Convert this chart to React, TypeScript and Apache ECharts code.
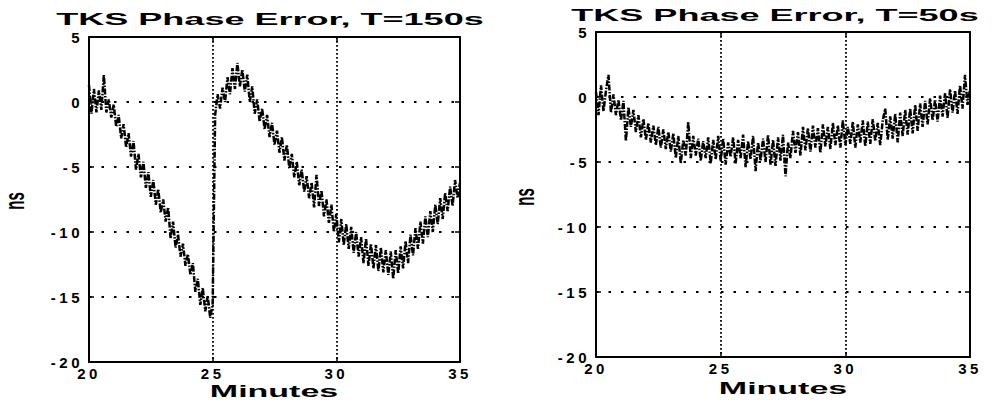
import React, { useEffect, useRef } from "react";
import * as echarts from "echarts";

// sampling grid of both records (minutes)
const T_START = 20;
const T_STEP = 0.1;

// TKS phase error (ns), T = 150 s, one row per minute (20.0 ... 35.0)
const phaseErrT150: number[] = [
  1.3, -0.9, 1.0, -0.8, 0.9, -0.6, 2.1, -0.8, 0.2, -1.2,
  -0.2, -1.9, -1.0, -2.8, -1.7, -3.5, -2.4, -4.2, -3.0, -5.2,
  -4.0, -5.8, -4.6, -6.6, -5.4, -7.3, -6.0, -7.9, -6.7, -8.5,
  -7.5, -9.2, -8.1, -10.5, -9.2, -11.2, -10.2, -11.9, -10.9, -12.6,
  -11.7, -13.3, -12.4, -14.6, -13.6, -15.6, -14.3, -16.1, -14.9, -16.6,
  -15.5, -1.0, 0.6, -0.5, 1.1, 0.0, 1.9, 0.6, 2.6, 1.0,
  3.0, 1.2, 2.5, 0.8, 2.1, 0.0, 1.2, -0.9, 0.2, -1.5,
  -0.5, -2.1, -1.0, -2.7, -1.6, -3.3, -2.2, -3.9, -2.7, -4.5,
  -3.3, -5.1, -4.0, -5.8, -4.6, -6.4, -5.2, -6.9, -5.7, -7.4,
  -6.2, -8.1, -5.6, -8.0, -6.8, -8.8, -7.5, -9.3, -7.9, -10.0,
  -8.6, -10.8, -9.0, -11.0, -9.4, -11.3, -9.6, -11.6, -10.0, -11.9,
  -10.4, -12.4, -10.5, -12.6, -10.9, -12.8, -11.0, -13.0, -11.2, -13.1,
  -11.4, -13.3, -11.5, -13.6, -11.4, -13.2, -11.1, -12.8, -10.7, -12.4,
  -10.2, -11.8, -9.7, -11.3, -9.2, -10.9, -8.8, -10.4, -8.4, -10.0,
  -7.9, -9.4, -7.4, -9.0, -7.0, -8.4, -6.5, -8.0, -6.0, -7.4,
  -6.2,
];

// TKS phase error (ns), T = 50 s
const phaseErrT50: number[] = [
  0.4, -1.4, 0.9, -1.1, 0.5, 1.7, -1.2, 0.2, -1.4, -0.2,
  -1.8, -0.3, -3.4, -0.8, -2.3, -1.0, -2.7, -1.4, -3.1, -1.7,
  -3.3, -2.0, -3.5, -2.2, -3.7, -2.3, -3.9, -2.5, -4.0, -2.7,
  -4.2, -2.8, -4.7, -3.0, -5.1, -3.3, -4.5, -1.9, -4.7, -3.0,
  -4.5, -3.2, -4.9, -3.4, -4.7, -3.1, -5.1, -3.3, -4.8, -3.0,
  -4.9, -3.2, -5.2, -3.5, -4.6, -3.1, -5.1, -3.3, -4.7, -2.9,
  -5.4, -3.4, -4.8, -3.0, -5.7, -3.5, -4.9, -3.2, -5.0, -2.9,
  -5.2, -3.3, -5.3, -3.1, -4.9, -2.9, -6.1, -3.5, -4.7, -2.6,
  -4.3, -2.7, -4.5, -2.3, -4.1, -2.4, -4.2, -2.2, -3.9, -2.4,
  -4.3, -2.1, -3.8, -2.3, -4.0, -2.0, -3.7, -2.2, -3.9, -1.8,
  -3.7, -2.3, -3.6, -1.9, -3.9, -2.1, -3.5, -1.8, -3.8, -1.9,
  -3.6, -1.7, -3.4, -2.0, -3.7, -1.8, -0.9, -3.3, -1.5, -3.2,
  -1.3, -3.5, -1.2, -3.0, -1.0, -2.9, -0.9, -2.8, -0.6, -2.6,
  -0.5, -2.3, -0.3, -2.1, -0.1, -1.8, -0.2, -1.9, 0.1, -1.5,
  0.3, -1.6, 0.6, -1.2, 0.5, -1.3, 0.9, -0.9, 1.7, -0.6,
  0.6,
];

const titles = ["TKS Phase Error, T=150s", "TKS Phase Error, T=50s"];
const xAxisName = "Minutes";
const yAxisName = "ns";
const X_MIN = 20, X_MAX = 35, X_INT = 5;
const Y_MIN = -20, Y_MAX = 5, Y_INT = 5;

const toPairs = (vals: number[]) =>
  vals.map((v, i) => [Number((T_START + i * T_STEP).toFixed(2)), v]);

const LABEL_FONT = "Liberation Sans, Arial";
const TEXT_FONT = "Liberation Sans";

function axesFor(g: number) {
  const label = {
    color: "#000",
    fontFamily: LABEL_FONT,
    fontWeight: "bold" as const,
    fontSize: 15,
  };
  const line = { show: true, onZero: false, lineStyle: { color: "#000", width: 2 } };
  const tick = { show: true, inside: true, length: 5, lineStyle: { color: "#000", width: 1.5 } };
  const xAxes = [
    {
      type: "value", gridIndex: g, min: X_MIN, max: X_MAX, interval: X_INT, position: "bottom",
      axisLine: line, axisTick: tick,
      axisLabel: { ...label, margin: 4 },
      splitLine: { show: true, lineStyle: { color: "#000", width: 1.8, type: [1.8, 2.2] } },
    },
    {
      type: "value", gridIndex: g, min: X_MIN, max: X_MAX, interval: X_INT, position: "top",
      axisLine: line, axisTick: tick, axisLabel: { show: false }, splitLine: { show: false },
    },
  ];
  const yAxes = [
    {
      type: "value", gridIndex: g, min: Y_MIN, max: Y_MAX, interval: Y_INT, position: "left",
      axisLine: line, axisTick: tick,
      axisLabel: { ...label, margin: 6 },
      splitLine: { show: true, lineStyle: { color: "#000", width: 2, type: [2.5, 10] } },
    },
    {
      type: "value", gridIndex: g, min: Y_MIN, max: Y_MAX, interval: Y_INT, position: "right",
      axisLine: line, axisTick: tick, axisLabel: { show: false }, splitLine: { show: false },
    },
  ];
  return { xAxes, yAxes };
}

function textEl(text: string, x: number, y: number, size: number, extra: any = {}) {
  return {
    type: "text",
    x,
    y,
    scaleX: 2.0,
    ...extra,
    style: {
      text,
      fill: "#000",
      fontFamily: TEXT_FONT,
      fontWeight: "bold",
      fontSize: size,
      align: "center",
      verticalAlign: "middle",
    },
  };
}

export default function App() {
  const ref = useRef<HTMLDivElement>(null);

  useEffect(() => {
    if (!ref.current) return;
    const chart = echarts.init(ref.current, undefined, { renderer: "svg" });
    const a0 = axesFor(0);
    const a1 = axesFor(1);
    const seriesStyle = {
      type: "line",
      showSymbol: false,
      symbol: "none",
      lineStyle: { color: "#000", width: 2.5, type: [6, 1.5, 1.5, 1.5] },
      silent: true,
    };
    chart.setOption({
      animation: false,
      backgroundColor: "#fff",
      grid: [
        { left: 89, top: 37, width: 371, height: 325 },
        { left: 596, top: 32, width: 374, height: 325 },
      ],
      xAxis: [...a0.xAxes, ...a1.xAxes],
      yAxis: [...a0.yAxes, ...a1.yAxes],
      series: [
        { ...seriesStyle, name: titles[0], xAxisIndex: 0, yAxisIndex: 0, data: toPairs(phaseErrT150) },
        { ...seriesStyle, name: titles[1], xAxisIndex: 2, yAxisIndex: 2, data: toPairs(phaseErrT50) },
      ],
      graphic: [
        textEl(titles[0], 270, 19, 17, { scaleX: 2.12 }),
        textEl(titles[1], 775, 15, 17, { scaleX: 2.12 }),
        textEl(xAxisName, 274, 391, 17),
        textEl(xAxisName, 783, 388, 17),
        textEl(yAxisName, 15, 201, 15, { scaleX: 1, scaleY: 1.8, rotation: Math.PI / 2 }),
        textEl(yAxisName, 525, 197, 15, { scaleX: 1, scaleY: 1.8, rotation: Math.PI / 2 }),
      ],
    });
    return () => chart.dispose();
  }, []);

  return (
    <>
      <style>{`
        body { margin: 0; background: #fff; }
        .tks-chart text[style*="Arial"], .tks-chart text[font-family*="Arial"] { letter-spacing: 3.5px; }
      `}</style>
      <div className="tks-chart" ref={ref} style={{ width: 992, height: 406 }} />
    </>
  );
}
